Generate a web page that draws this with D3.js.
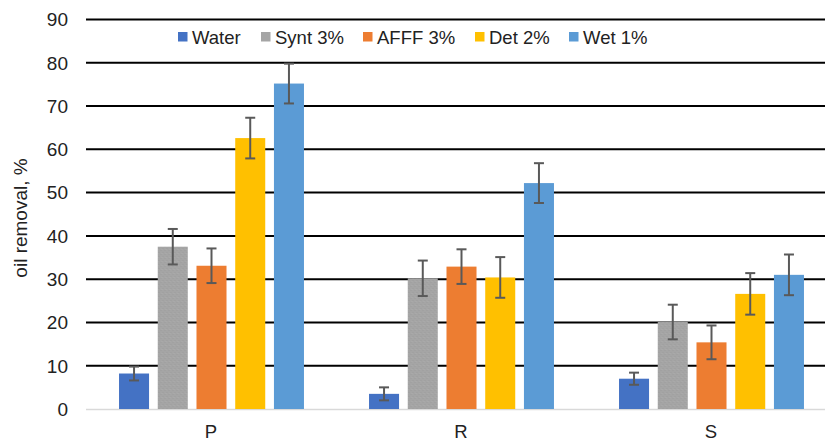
<!DOCTYPE html>
<html><head><meta charset="utf-8">
<script src="https://cdn.jsdelivr.net/npm/d3@7"></script>
<style>body{margin:0;background:#fff}svg{display:block;font-family:"Liberation Sans",Arial,sans-serif}</style>
</head><body><svg id="c" width="825" height="443"></svg>
<script>
const categories = ["P", "R", "S"];
const seriesNames = ["Water", "Synt 3%", "AFFF 3%", "Det 2%", "Wet 1%"];
const water = [8.2, 3.5, 7.0];
const synt = [37.5, 30.2, 20.1];
const afff = [33.1, 32.9, 15.4];
const det = [62.6, 30.4, 26.6];
const wet = [75.2, 52.2, 31.0];
const waterErr = [1.6, 1.5, 1.4];
const syntErr = [4.1, 4.1, 4.0];
const afffErr = [4.0, 4.0, 3.9];
const detErr = [4.7, 4.7, 4.8];
const wetErr = [4.6, 4.6, 4.7];
const yTicks = [0, 10, 20, 30, 40, 50, 60, 70, 80, 90];
const colors = ["#4472C4", "url(#synt)", "#ED7D31", "#FFC000", "#5B9BD5"];
const legendColors = ["#4472C4", "#A5A5A5", "#ED7D31", "#FFC000", "#5B9BD5"];

const values = [water, synt, afff, det, wet];
const errs = [waterErr, syntErr, afffErr, detErr, wetErr];

const svg = d3.select("#c");
const defs = svg.append("defs");
const pat = defs.append("pattern").attr("id", "synt").attr("patternUnits", "userSpaceOnUse").attr("width", 4).attr("height", 4);
pat.append("rect").attr("width", 4).attr("height", 4).attr("fill", "#A5A5A5");
pat.append("rect").attr("x", 0).attr("y", 0).attr("width", 1).attr("height", 1).attr("fill", "#9c9c9c");
pat.append("rect").attr("x", 2).attr("y", 2).attr("width", 1).attr("height", 1).attr("fill", "#9c9c9c");
pat.append("rect").attr("x", 3).attr("y", 1).attr("width", 1).attr("height", 1).attr("fill", "#adadad");

const x0 = d3.scaleBand().domain(categories).range([86.5, 836.5]).padding(0);
const x1 = d3.scaleBand().domain(seriesNames).range([0, x0.bandwidth()]).paddingInner(0.225).paddingOuter(0.84);
const y = d3.scaleLinear().domain([0, 90]).range([409, 19.5]);

// gridlines
svg.append("g").selectAll("line").data(yTicks.filter(d => d > 0)).join("line")
  .attr("x1", 86).attr("x2", 825).attr("y1", d => y(d)).attr("y2", d => y(d))
  .attr("stroke", "#000").attr("stroke-width", 2);
// baseline
svg.append("line").attr("x1", 86).attr("x2", 825).attr("y1", y(0) + 0.5).attr("y2", y(0) + 0.5)
  .attr("stroke", "#d9d9d9").attr("stroke-width", 1.5);

// y tick labels
svg.append("g").selectAll("text").data(yTicks).join("text")
  .attr("x", 68).attr("y", d => y(d)).attr("dy", "0.36em").attr("text-anchor", "end")
  .attr("font-size", 19).attr("fill", "#222").text(d => d);

// y title
svg.append("text").attr("transform", `translate(27,${218}) rotate(-90)`)
  .attr("text-anchor", "middle").attr("font-size", 19).attr("fill", "#222").text("oil removal, %");

// bars
const groups = svg.append("g").selectAll("g").data(categories).join("g")
  .attr("transform", d => `translate(${x0(d)},0)`);
seriesNames.forEach((s, si) => {
  groups.append("rect")
    .attr("x", x1(s)).attr("width", x1.bandwidth())
    .attr("y", (d, ci) => y(values[si][ci]))
    .attr("height", (d, ci) => y(0) - y(values[si][ci]))
    .attr("fill", colors[si]);
});
// error bars
seriesNames.forEach((s, si) => {
  const cx = x1(s) + x1.bandwidth() / 2;
  const g = groups.append("g").attr("stroke", "#595959").attr("stroke-width", 2);
  g.append("line").attr("x1", cx).attr("x2", cx)
    .attr("y1", (d, ci) => y(values[si][ci] + errs[si][ci]))
    .attr("y2", (d, ci) => y(values[si][ci] - errs[si][ci]));
  g.append("line").attr("x1", cx - 5).attr("x2", cx + 5)
    .attr("y1", (d, ci) => y(values[si][ci] + errs[si][ci]))
    .attr("y2", (d, ci) => y(values[si][ci] + errs[si][ci]));
  g.append("line").attr("x1", cx - 5).attr("x2", cx + 5)
    .attr("y1", (d, ci) => y(values[si][ci] - errs[si][ci]))
    .attr("y2", (d, ci) => y(values[si][ci] - errs[si][ci]));
});

// x labels
svg.append("g").selectAll("text").data(categories).join("text")
  .attr("x", d => x0(d) + x0.bandwidth() / 2 - 0.5).attr("y", 437.5)
  .attr("text-anchor", "middle").attr("font-size", 18.5).attr("fill", "#222").text(d => d);

// legend
const legendX = [178, 261, 363, 475, 569];
const lg = svg.append("g").selectAll("g").data(seriesNames).join("g")
  .attr("transform", (d, i) => `translate(${legendX[i]},0)`);
lg.append("rect").attr("x", 0).attr("y", 32).attr("width", 9.5).attr("height", 9.5).attr("fill", (d, i) => legendColors[i]);
lg.append("text").attr("x", 14).attr("y", 37).attr("dy", "0.36em").attr("font-size", 18.5).attr("fill", "#222").text(d => d);
</script></body></html>
